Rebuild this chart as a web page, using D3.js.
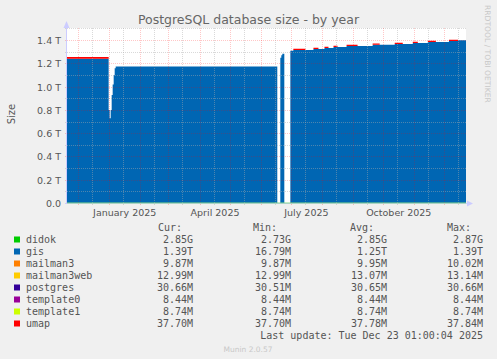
<!DOCTYPE html>
<html>
<head>
<meta charset="utf-8">
<script src="https://cdn.jsdelivr.net/npm/d3@7"></script>
<style>
  body { margin: 0; background: #f0f0f0; }
  text { font-family: "DejaVu Sans", sans-serif; }
  .mono { font-family: "DejaVu Sans Mono", monospace; }
</style>
</head>
<body>
<svg width="497" height="359"></svg>
<script>
// step points of the yearly graph (value holds until next date), sizes in TB
const dates = ["2024-11-19", "2024-12-31", "2025-01-01", "2025-01-02", "2025-01-03", "2025-01-04",
    "2025-01-05", "2025-01-06", "2025-01-07", "2025-06-17", "2025-06-20", "2025-06-21", "2025-06-22",
    "2025-06-24", "2025-06-30", "2025-07-03", "2025-07-15", "2025-07-23", "2025-07-28", "2025-08-03",
    "2025-08-07", "2025-08-12", "2025-08-16", "2025-08-25", "2025-09-05", "2025-09-20", "2025-09-27",
    "2025-10-12", "2025-10-20", "2025-10-30", "2025-11-04", "2025-11-14", "2025-11-22", "2025-12-05",
    "2025-12-14", "2025-12-24"];
const gis = [1.241, 0.80, 0.73, 0.80, 0.93, 1.02, 1.10, 1.16, 1.175, null, 1.25, 1.27, 1.284,
    null, 1.310, 1.316, 1.316, 1.325, 1.325, 1.333, 1.333, 1.342, 1.342, 1.350, 1.350, 1.362, 1.362,
    1.368, 1.368, 1.376, 1.376, 1.385, 1.385, 1.393, 1.399, 1.399];
const umap = [0.015, 0, 0, 0, 0, 0, 0, 0, 0, null, 0, 0, 0,
    null, 0, 0.01, 0, 0.01, 0, 0.01, 0, 0.01, 0, 0.01, 0, 0.01, 0,
    0.01, 0, 0.01, 0, 0.01, 0, 0.01, 0, 0];
const didok = 0.00285;

const names = ["didok", "gis", "mailman3", "mailman3web", "postgres", "template0", "template1", "umap"];
const colors = ["#00cc00", "#0066b3", "#ff8000", "#ffcc00", "#330099", "#990099", "#ccff00", "#ff0000"];
const cur = ["2.85G", "1.39T", "9.87M", "12.99M", "30.66M", "8.44M", "8.74M", "37.70M"];
const min = ["2.73G", "16.79M", "9.87M", "12.99M", "30.51M", "8.44M", "8.74M", "37.70M"];
const avg = ["2.85G", "1.25T", "9.95M", "13.07M", "30.65M", "8.44M", "8.74M", "37.78M"];
const max = ["2.87G", "1.39T", "10.02M", "13.14M", "30.66M", "8.44M", "8.74M", "37.84M"];

const yTicks = [0, 0.2, 0.4, 0.6, 0.8, 1.0, 1.2, 1.4];
const yMinor = [0.1, 0.3, 0.5, 0.7, 0.9, 1.1, 1.3, 1.5];
const xLabels = ["January 2025", "April 2025", "July 2025", "October 2025"];

const parse = d3.utcParse("%Y-%m-%d");
const svg = d3.select("svg");
const pLeft = 67, pRight = 466, pTop = 29, pBottom = 203.5;

const x = d3.scaleUtc()
    .domain([parse("2024-11-19"), parse("2025-12-22")])
    .range([pLeft - 0.5, pRight]);
const y = d3.scaleLinear().domain([0, 1.5]).range([pBottom, 28.9]);

svg.append("rect").attr("width", 497).attr("height", 359).attr("fill", "#f0f0f0");
svg.append("rect").attr("x", pLeft).attr("y", pTop - 1).attr("width", pRight - pLeft).attr("height", pBottom - pTop + 1)
    .attr("fill", "#ffffff");

// expand into step pairs
let rows = [];
for (let i = 0; i < dates.length - 1; i++) {
    let ok = gis[i] !== null;
    [dates[i], dates[i + 1]].forEach(function (d) {
        rows.push({ t: parse(d), ok: ok, didok: ok ? didok : 0, gis: ok ? gis[i] : 0, umap: ok ? umap[i] : 0 });
    });
}
const stacked = d3.stack().keys(["didok", "gis", "umap"])(rows);
const area = d3.area()
    .defined(function (d) { return d.data.ok; })
    .x(function (d) { return x(d.data.t); })
    .y0(function (d) { return y(d[0]); })
    .y1(function (d) { return y(d[1]); });

svg.append("clipPath").attr("id", "plot").append("rect")
    .attr("x", pLeft).attr("y", pTop - 1).attr("width", pRight - pLeft).attr("height", pBottom - pTop + 1);

svg.append("g").attr("clip-path", "url(#plot)")
    .selectAll("path").data(stacked).enter().append("path")
    .attr("d", area)
    .attr("fill", function (d) { return colors[names.indexOf(d.key)]; })
    .attr("stroke", function (d) { return d.key === "didok" ? "#66dd66" : "none"; })
    .attr("stroke-width", 0.8);

// grid
const grid = svg.append("g");
function snap(v) { return Math.round(v - 0.5) + 0.5; }
const minorCol = "rgba(170,170,170,0.45)", majorCol = "rgba(255,0,0,0.22)";
grid.selectAll(".ymin").data(yMinor).enter().append("line")
    .attr("x1", pLeft - 2).attr("x2", pRight)
    .attr("y1", function (d) { return snap(y(d)); }).attr("y2", function (d) { return snap(y(d)); })
    .attr("stroke", minorCol).attr("stroke-dasharray", "1,1");
grid.selectAll(".ymaj").data(yTicks.slice(1)).enter().append("line")
    .attr("x1", pLeft - 2).attr("x2", pRight)
    .attr("y1", function (d) { return snap(y(d)); }).attr("y2", function (d) { return snap(y(d)); })
    .attr("stroke", majorCol).attr("stroke-dasharray", "1,1");

const months = d3.utcMonth.range(parse("2024-12-01"), parse("2025-12-23"));
const mids = months.map(function (m) { return d3.utcDay.offset(m, 14); })
    .concat([parse("2024-11-15")]).filter(function (d) { return x(d) > pLeft && x(d) < pRight; });
grid.selectAll(".xmin").data(mids).enter().append("line")
    .attr("x1", function (d) { return snap(x(d)); }).attr("x2", function (d) { return snap(x(d)); })
    .attr("y1", pTop - 1).attr("y2", pBottom + 2)
    .attr("stroke", minorCol).attr("stroke-dasharray", "1,1");
grid.selectAll(".xmaj").data(months).enter().append("line")
    .attr("x1", function (d) { return snap(x(d)); }).attr("x2", function (d) { return snap(x(d)); })
    .attr("y1", pTop - 1).attr("y2", pBottom + 2)
    .attr("stroke", majorCol).attr("stroke-dasharray", "1,1");

// axes
svg.append("line").attr("x1", pLeft - 0.5).attr("x2", pLeft - 0.5).attr("y1", pBottom).attr("y2", 24)
    .attr("stroke", "#ccccff");
svg.append("path").attr("d", "M" + (pLeft - 3.5) + ",28 L" + (pLeft - 0.5) + ",21 L" + (pLeft + 2.5) + ",28 Z")
    .attr("fill", "#ccccff");
svg.append("line").attr("x1", pLeft - 2).attr("x2", pRight + 2).attr("y1", pBottom).attr("y2", pBottom)
    .attr("stroke", "#ccccff");
svg.append("path").attr("d", "M" + (pRight + 1) + "," + (pBottom - 3) + " L" + (pRight + 7) + "," + pBottom +
    " L" + (pRight + 1) + "," + (pBottom + 3) + " Z").attr("fill", "#ccccff");
svg.append("line").attr("x1", pLeft).attr("x2", pRight).attr("y1", pBottom - 0.5).attr("y2", pBottom - 0.5)
    .attr("stroke", "#88dd88").attr("stroke-width", 1);

svg.append("g").selectAll("text").data(yTicks).enter().append("text")
    .attr("x", 61).attr("y", function (d) { return y(d); }).attr("dy", "0.36em")
    .attr("text-anchor", "end").attr("font-size", 9.5).attr("fill", "#555")
    .text(function (d) { return d === 0 ? "0.0" : d3.format(".1f")(d) + " T"; });

const labelDates = ["2025-01-16", "2025-04-16", "2025-07-16", "2025-10-16"];
svg.append("g").selectAll("text").data(xLabels).enter().append("text")
    .attr("x", function (d, i) { return x(parse(labelDates[i])); }).attr("y", 215.5)
    .attr("text-anchor", "middle").attr("font-size", 9.5).attr("fill", "#555")
    .text(function (d) { return d; });

svg.append("text").attr("x", 248.5).attr("y", 24).attr("text-anchor", "middle")
    .attr("font-size", 12.5).attr("fill", "#666").text("PostgreSQL database size - by year");
svg.append("text").attr("transform", "translate(14.5,114) rotate(-90)").attr("text-anchor", "middle")
    .attr("font-size", 10).attr("fill", "#555").text("Size");
svg.append("text").attr("transform", "translate(485,5) rotate(90)")
    .attr("font-size", 7.6).attr("fill", "#c8c8c8").text("RRDTOOL / TOBI OETIKER");

// legend
const leg = svg.append("g");
const heads = [["Cur:", 158], ["Min:", 253], ["Avg:", 350], ["Max:", 447]];
heads.forEach(function (h) {
    leg.append("text").attr("class", "mono").attr("x", h[1]).attr("y", 231).attr("font-size", 10)
        .attr("fill", "#555").text(h[0]);
});
const cols = [[cur, 193], [min, 291], [avg, 387], [max, 483]];
names.forEach(function (n, i) {
    let yy = 243 + i * 12;
    leg.append("rect").attr("x", 14).attr("y", yy - 6.5).attr("width", 6).attr("height", 6).attr("fill", colors[i]);
    leg.append("text").attr("class", "mono").attr("x", 26).attr("y", yy).attr("font-size", 10)
        .attr("fill", "#555").text(n);
    cols.forEach(function (c) {
        leg.append("text").attr("class", "mono").attr("x", c[1]).attr("y", yy).attr("font-size", 10)
            .attr("text-anchor", "end").attr("fill", "#555").text(c[0][i]);
    });
});
leg.append("text").attr("class", "mono").attr("x", 483).attr("y", 339).attr("font-size", 10)
    .attr("text-anchor", "end").attr("fill", "#555").text("Last update: Tue Dec 23 01:00:04 2025");
svg.append("text").attr("x", 248).attr("y", 352).attr("text-anchor", "middle").attr("font-size", 7.5)
    .attr("fill", "#c8c8c8").text("Munin 2.0.57");
</script>
</body>
</html>
